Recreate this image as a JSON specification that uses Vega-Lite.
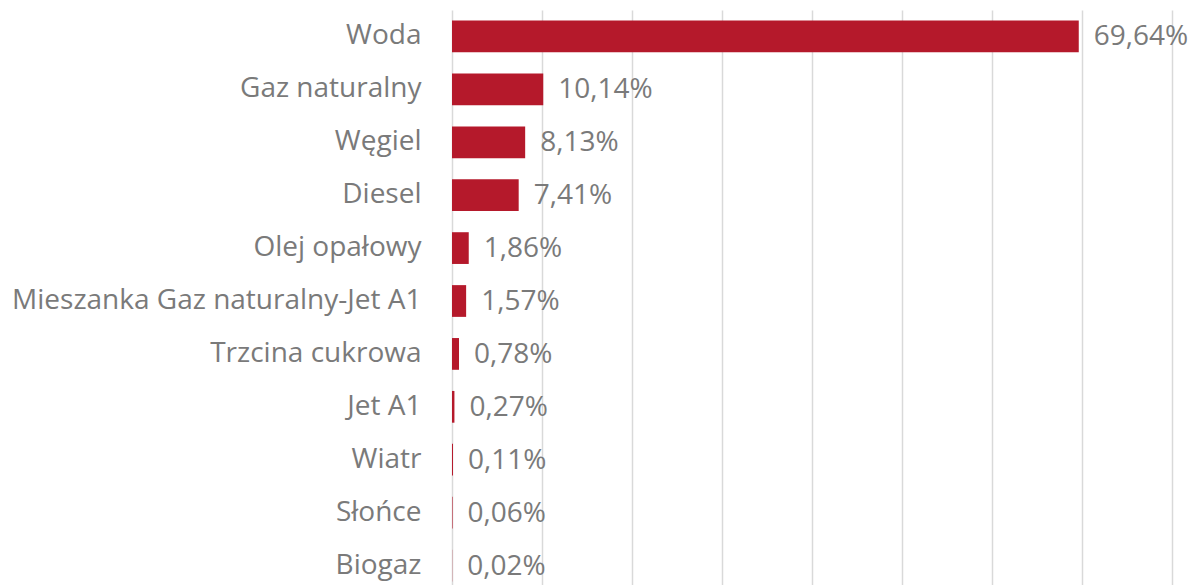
{
  "$schema": "https://vega.github.io/schema/vega-lite/v6.json",
  "width": 720,
  "height": 582,
  "autosize": {"type": "none"},
  "padding": {"left": 452, "top": 10, "right": 20, "bottom": 0},
  "background": "white",
  "data": {"values": [
    {"source": "Woda", "share": 0.6964},
    {"source": "Gaz naturalny", "share": 0.1014},
    {"source": "Węgiel", "share": 0.0813},
    {"source": "Diesel", "share": 0.0741},
    {"source": "Olej opałowy", "share": 0.0186},
    {"source": "Mieszanka Gaz naturalny-Jet A1", "share": 0.0157},
    {"source": "Trzcina cukrowa", "share": 0.0078},
    {"source": "Jet A1", "share": 0.0027},
    {"source": "Wiatr", "share": 0.0011},
    {"source": "Słońce", "share": 0.0006},
    {"source": "Biogaz", "share": 0.0002}
  ]},
  "encoding": {
    "y": {"field": "source", "type": "nominal", "sort": null,
      "scale": {"paddingInner": 0.4, "paddingOuter": 0.2},
      "axis": {"title": null, "ticks": false, "domain": false, "labelPadding": 31,
        "labelFont": "Open Sans", "labelFontSize": 28, "labelColor": "#7a7a7a", "labelLimit": 500}},
    "x": {"field": "share", "type": "quantitative",
      "scale": {"domain": [0, 0.8], "nice": false},
      "axis": {"title": null, "labels": false, "ticks": false, "domain": false,
        "grid": true, "values": [0, 0.1, 0.2, 0.3, 0.4, 0.5, 0.6, 0.7, 0.8],
        "gridColor": "#d9d9d9", "gridWidth": 1.5}}
  },
  "layer": [
    {"mark": {"type": "bar", "color": "#B5192B"}},
    {"mark": {"type": "text", "align": "left", "baseline": "middle", "dx": 15, "dy": 1,
      "font": "Open Sans", "fontSize": 28, "color": "#7a7a7a"},
      "encoding": {"text": {"field": "share", "type": "quantitative", "format": ".2%"}}}
  ],
  "config": {
    "view": {"stroke": null},
    "locale": {"number": {"decimal": ",", "thousands": " ", "grouping": [3], "currency": ["", " zł"]}}
  }
}
